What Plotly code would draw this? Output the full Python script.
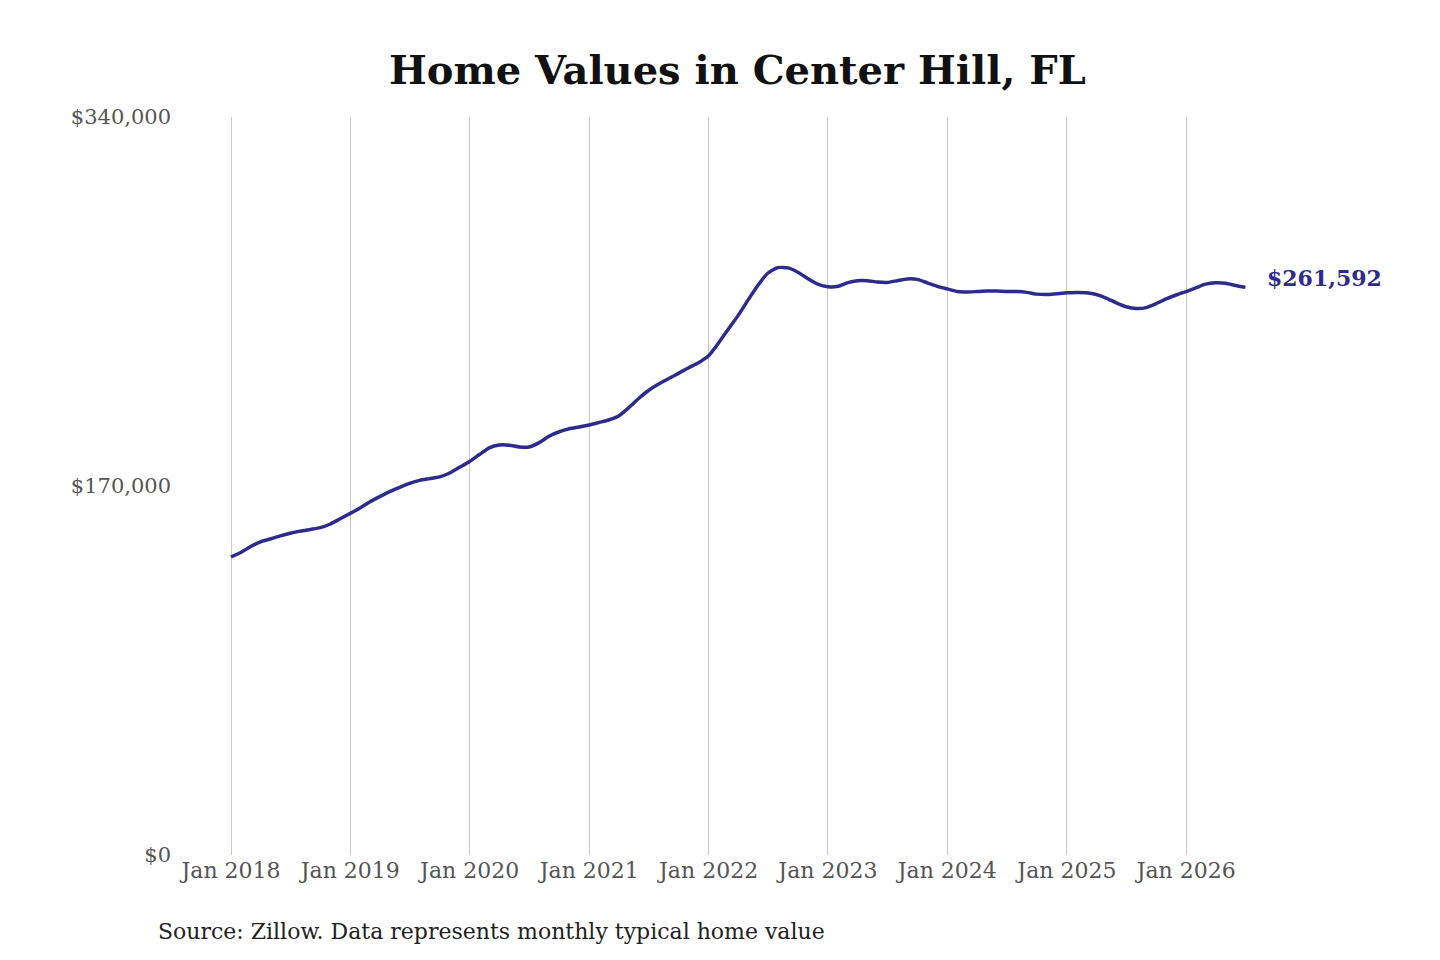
import plotly.graph_objects as go
import pandas as pd

# monthly typical home value, Jan 2018 .. Jul 2026
months = pd.date_range("2018-01-01", "2026-07-01", freq="MS")
values = [
    137300, 139500, 142000, 144300, 145600, 147000, 148200, 149200, 150000, 150800, 152500, 154900,
    157400, 160000, 162600, 165100, 167400, 169400, 171200, 172600, 173400, 174200, 176000, 178600,
    181300, 184600, 187600, 188900, 188800, 188000, 188000, 190000, 193000, 195000, 196400, 197200,
    198100, 199300, 200400, 202300, 206000, 210300, 214000, 217000, 219500, 221900, 224500, 226800,
    230000, 236000, 242000, 248500, 255500, 262500, 268000, 270600, 270500, 268500, 265500, 263000,
    261800, 262000, 263600, 264600, 264600, 264000, 263800, 264600, 265400, 265200, 263600, 262000,
    260800, 259600, 259400, 259600, 259800, 259800, 259600, 259600, 259200, 258400, 258200, 258600,
    259000, 259200, 259000, 258200, 256600, 254400, 252600, 251800, 252200, 254000, 256200, 258000,
    259600, 261400, 263000, 263600, 263400, 262400, 261592,
]
y_ticks = [0, 170000, 340000]
y_tick_labels = ["$0", "$170,000", "$340,000"]
x_ticks = pd.date_range("2018-01-01", "2026-01-01", freq="YS")
x_tick_labels = [f"Jan {d.year}" for d in x_ticks]

line_color = "#2e2b8c"
serif = "DejaVu Serif"

fig = go.Figure()
fig.add_trace(go.Scatter(
    x=months, y=values, mode="lines",
    line=dict(color=line_color, width=3.5, shape="spline", smoothing=0.6),
    hoverinfo="skip", showlegend=False,
))

# end-of-line value label
fig.add_annotation(
    x=months[-1], y=values[-1], text=f"<b>${values[-1]:,}</b>",
    showarrow=False, xanchor="left", xshift=20, yshift=9,
    font=dict(family=serif, size=22, color=line_color),
)

fig.add_annotation(
    x=-0.0195, y=-0.103, xref="paper", yref="paper",
    text="Source: Zillow. Data represents monthly typical home value",
    showarrow=False, xanchor="left", yanchor="middle",
    font=dict(family=serif, size=22, color="#222222"),
)

fig.update_layout(
    width=1440, height=960,
    paper_bgcolor="white", plot_bgcolor="white",
    margin=dict(l=172, r=48, t=109, b=113),
    title=dict(text="<b>Home Values in Center Hill, FL</b>", x=0.5065, xanchor="center",
               y=0.935, yanchor="middle",
               font=dict(family=serif, size=40, color="#111111")),
    xaxis=dict(
        range=["2017-07-29", "2027-10-17"],
        tickvals=x_ticks, ticktext=x_tick_labels,
        showgrid=True, gridcolor="#c8c8c8", gridwidth=1,
        showline=False, zeroline=False, ticks="",
        tickfont=dict(family=serif, size=22, color="#555555"),
    ),
    yaxis=dict(
        range=[0, 340000],
        tickvals=y_ticks, ticktext=y_tick_labels,
        showgrid=False, zeroline=False, showline=False, ticks="",
        ticklabelstandoff=8,
        tickfont=dict(family=serif, size=21, color="#555555"),
    ),
)

fig.write_html("out.html", config={"displayModeBar": False})
